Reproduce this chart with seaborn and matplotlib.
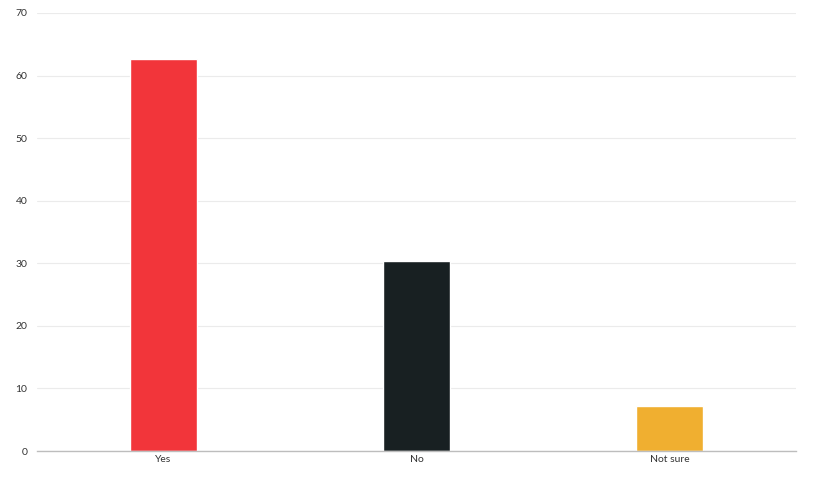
import matplotlib
matplotlib.use("Agg")
import matplotlib.pyplot as plt
import seaborn as sns
import pandas as pd

# Data
answers = ["Yes", "No", "Not sure"]
shares = [62.6, 30.3, 7.2]
bar_colors = ["#F2353A", "#182022", "#F0AF30"]
y_ticks = [0, 10, 20, 30, 40, 50, 60, 70]

df = pd.DataFrame({"answer": answers, "share": shares})

sns.set_theme(style="white")
plt.rcParams["font.family"] = ["Lato", "DejaVu Sans"]

fig = plt.figure(figsize=(8.15, 4.8), dpi=100)
ax = fig.add_axes([0.0454, 0.0604, 0.9313, 0.9126])

sns.barplot(data=df, x="answer", y="share", hue="answer", palette=bar_colors,
            width=0.265, legend=False, ax=ax, saturation=1)

ax.set_ylim(0, 70)
ax.set_xlim(-0.5, 2.5)
ax.set_yticks(y_ticks)
ax.yaxis.grid(True, color="#EBEBEB", linewidth=0.8)
ax.set_axisbelow(True)
ax.set_xlabel("")
ax.set_ylabel("")

for side in ["top", "right", "left"]:
    ax.spines[side].set_visible(False)
ax.spines["bottom"].set_color("#BDBDBD")
ax.spines["bottom"].set_linewidth(1)

ax.tick_params(axis="both", length=0, labelsize=7.5, labelcolor="#333333")
ax.tick_params(axis="y", pad=7)
ax.tick_params(axis="x", pad=3)

fig.savefig("out.png", dpi=100)
